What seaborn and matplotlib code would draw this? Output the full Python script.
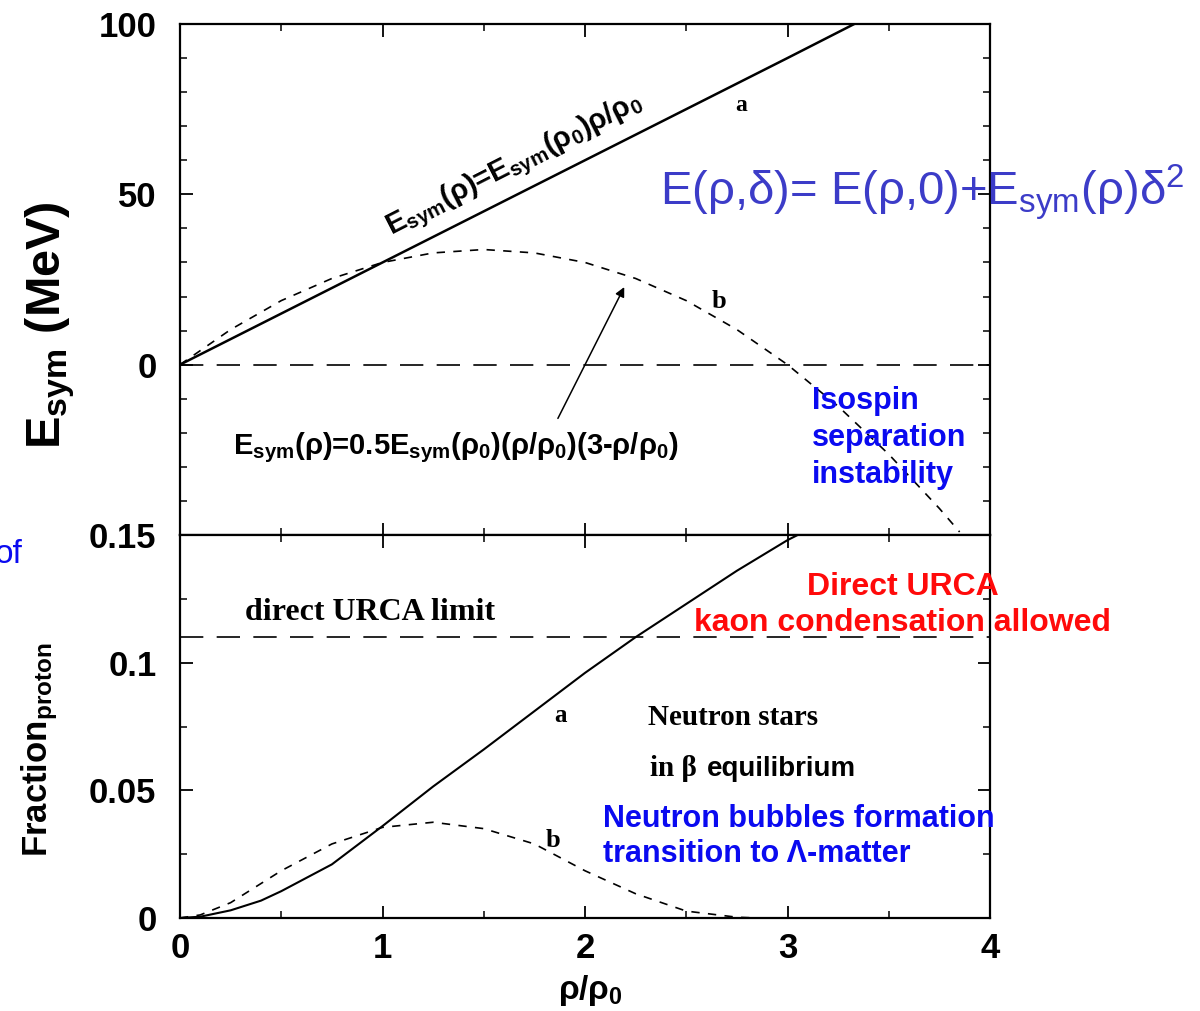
import pandas as pd
import matplotlib
matplotlib.use("Agg")
import matplotlib.pyplot as plt
from matplotlib.ticker import MultipleLocator, FixedLocator
import seaborn as sns

# ---- data ----
# top panel: symmetry energy (MeV) vs rho/rho0
rho_a_top = [0.0, 1.0, 2.0, 3.0, 3.33]
esym_a = [0.0, 30.0, 60.0, 90.0, 100.0]

rho_b_top = [0.0, 0.25, 0.5, 0.75, 1.0, 1.25, 1.5, 1.75, 2.0, 2.25, 2.5,
             2.75, 3.0, 3.25, 3.5, 3.75, 3.85]
esym_b = [0.0, 10.3, 18.8, 25.3, 30.0, 32.8, 33.8, 32.8, 30.0, 25.3, 18.8,
          10.3, 0.0, -12.2, -26.3, -42.2, -49.1]

# bottom panel: proton fraction vs rho/rho0
rho_a_bot = [0.0, 0.1, 0.25, 0.4, 0.5, 0.75, 1.0, 1.25, 1.5, 1.75, 2.0,
             2.25, 2.5, 2.75, 3.0, 3.1]
frac_a = [0.0, 0.0005, 0.003, 0.0068, 0.0105, 0.021, 0.036, 0.0515, 0.066,
          0.081, 0.096, 0.110, 0.123, 0.136, 0.148, 0.152]

rho_b_bot = [0.0, 0.1, 0.25, 0.5, 0.75, 1.0, 1.25, 1.5, 1.75, 2.0, 2.25,
             2.5, 2.75, 2.85]
frac_b = [0.0, 0.0012, 0.006, 0.0185, 0.029, 0.0355, 0.0375, 0.035, 0.029,
          0.0185, 0.0095, 0.0027, 0.0003, 0.0]

urca_limit = 0.11
x_ticks = [0, 1, 2, 3, 4]
top_yticks = [0, 50, 100]
bot_yticks = [0, 0.05, 0.1, 0.15]
bot_ylabels = ["0", "0.05", "0.1", "0.15"]

top_df = pd.concat([
    pd.DataFrame({"rho": rho_a_top, "E": esym_a, "curve": "a"}),
    pd.DataFrame({"rho": rho_b_top, "E": esym_b, "curve": "b"}),
])
bot_df = pd.concat([
    pd.DataFrame({"rho": rho_a_bot, "f": frac_a, "curve": "a"}),
    pd.DataFrame({"rho": rho_b_bot, "f": frac_b, "curve": "b"}),
])

sns.set_style("ticks")
plt.rcParams.update({
    "font.family": ["Liberation Sans", "DejaVu Sans"],
    "mathtext.default": "regular",
    "text.color": "black", "axes.labelcolor": "black",
    "xtick.color": "black", "ytick.color": "black",
    "xtick.direction": "in", "ytick.direction": "in",
    "xtick.top": True, "ytick.right": True,
    "xtick.major.size": 9, "ytick.major.size": 9,
    "xtick.minor.size": 5, "ytick.minor.size": 5,
    "xtick.major.width": 1.3, "ytick.major.width": 1.3,
    "xtick.minor.width": 1.1, "ytick.minor.width": 1.1,
    "axes.linewidth": 1.6, "axes.edgecolor": "black",
})

fig = plt.figure(figsize=(12, 10.11), dpi=100)
ax1 = fig.add_axes([0.15, 0.4708, 0.675, 0.5055])
ax2 = fig.add_axes([0.15, 0.092, 0.675, 0.3788])

# top panel
sns.lineplot(data=top_df[top_df.curve == "a"], x="rho", y="E", ax=ax1,
             color="black", lw=1.8, errorbar=None)
sns.lineplot(data=top_df[top_df.curve == "b"], x="rho", y="E", ax=ax1,
             color="black", lw=1.2, linestyle=(0, (5, 5)), errorbar=None)
ax1.axhline(0, color="black", lw=1.2, linestyle=(0, (14, 8)))
ax1.set_xlim(0, 4)
ax1.set_ylim(-50, 100)
ax1.xaxis.set_major_locator(FixedLocator(x_ticks))
ax1.xaxis.set_minor_locator(MultipleLocator(0.5))
ax1.yaxis.set_major_locator(FixedLocator(top_yticks))
ax1.yaxis.set_minor_locator(MultipleLocator(10))
ax1.set_xticklabels([])
ax1.set_yticklabels([str(t) for t in top_yticks], fontsize=25, fontweight="bold")
ax1.tick_params(axis="y", which="both", pad=17)
ax1.tick_params(axis="x", which="both", labelbottom=False)
ax1.set_xlabel("")
ax1.set_ylabel("")

# bottom panel
sns.lineplot(data=bot_df[bot_df.curve == "a"], x="rho", y="f", ax=ax2,
             color="black", lw=1.5, errorbar=None)
sns.lineplot(data=bot_df[bot_df.curve == "b"], x="rho", y="f", ax=ax2,
             color="black", lw=1.2, linestyle=(0, (5, 5)), errorbar=None)
ax2.axhline(urca_limit, color="black", lw=1.2, linestyle=(0, (14, 8)))
ax2.set_xlim(0, 4)
ax2.set_ylim(0, 0.15)
ax2.xaxis.set_major_locator(FixedLocator(x_ticks))
ax2.xaxis.set_minor_locator(MultipleLocator(0.5))
ax2.yaxis.set_major_locator(FixedLocator(bot_yticks))
ax2.yaxis.set_minor_locator(MultipleLocator(0.025))
ax2.set_xticklabels([str(t) for t in x_ticks], fontsize=25, fontweight="bold")
ax2.set_yticklabels(bot_ylabels, fontsize=25, fontweight="bold")
ax2.tick_params(axis="y", which="both", pad=17)
ax2.tick_params(axis="x", which="both", pad=10)
ax2.set_xlabel("")
ax2.set_ylabel("")

# axis labels
fig.text(50 / 1200, 1 - 325 / 1011, r"E$_{sym}$ (MeV)", rotation=90,
         ha="center", va="center", fontsize=35, fontweight="bold")
fig.text(40 / 1200, 1 - 750 / 1011, r"Fraction$_{proton}$", rotation=90,
         ha="center", va="center", fontsize=25, fontweight="bold")
fig.text(590 / 1200, 1 - 990 / 1011, r"ρ/ρ$_0$", ha="center", va="center",
         fontsize=24, fontweight="bold")

# annotations top panel
serif = ["Liberation Serif", "DejaVu Serif"]
ax1.text(1.65, 58.5, r"E$_{sym}$(ρ)=E$_{sym}$(ρ$_0$)ρ/ρ$_0$", rotation=27,
         ha="center", va="center", fontsize=21, fontweight="bold")
ax1.text(1.36, -24.5, r"E$_{sym}$(ρ)=0.5E$_{sym}$(ρ$_0$)(ρ/ρ$_0$)(3-ρ/ρ$_0$)",
         ha="center", va="center", fontsize=21, fontweight="bold")
ax1.annotate("", xy=(2.2, 23.5), xytext=(1.86, -16.5),
             arrowprops=dict(arrowstyle="-|>", color="black", lw=1.1,
                             mutation_scale=14))
ax1.text(2.77, 76, "a", family=serif, fontsize=17, fontweight="bold",
         ha="center", va="center")
ax1.text(2.66, 18.5, "b", family=serif, fontsize=19, fontweight="bold",
         ha="center", va="center")
ax1.text(3.12, -21.5, "Isospin\nseparation\ninstability", color="#0a0af0",
         fontsize=22, fontweight="bold", ha="left", va="center",
         linespacing=1.3)
fig.text(660 / 1200, 1 - 205 / 1011, r"E(ρ,δ)= E(ρ,0)+E$_{sym}$(ρ)δ$^2$",
         color="#3c3cc8", fontsize=34, ha="left", va="baseline")

# annotations bottom panel
ax2.text(0.94, 0.1195, "direct URCA limit", family=serif, fontsize=23,
         fontweight="bold", ha="center", va="center")
ax2.text(1.88, 0.0795, "a", family=serif, fontsize=18, fontweight="bold",
         ha="center", va="center")
ax2.text(1.84, 0.0305, "b", family=serif, fontsize=19, fontweight="bold",
         ha="center", va="center")
ax2.text(2.73, 0.0785, "Neutron stars", family=serif, fontsize=21,
         fontweight="bold", ha="center", va="center")
ax2.text(2.32, 0.0585, "in β", family=serif, fontsize=21,
         fontweight="bold", ha="left", va="center")
ax2.text(2.60, 0.0585, "equilibrium", fontsize=20,
         fontweight="bold", ha="left", va="center")
ax2.text(3.57, 0.1225, "Direct URCA\nkaon condensation allowed", color="#ff0a0a",
         fontsize=23, fontweight="bold", ha="center", va="center",
         linespacing=1.25, clip_on=False)
ax2.text(2.09, 0.032, "Neutron bubbles formation\ntransition to Λ-matter",
         color="#0a0af0", fontsize=22, fontweight="bold", ha="left",
         va="center", linespacing=1.2, clip_on=False)
fig.text(22 / 1200, 1 - 563 / 1011, "of", color="#0a0af0", fontsize=24,
         ha="right", va="baseline")

fig.savefig("out.png", dpi=100)
